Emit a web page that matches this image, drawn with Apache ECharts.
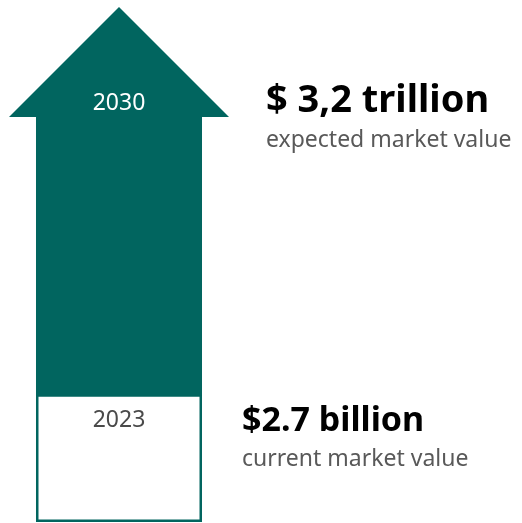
<!DOCTYPE html>
<html>
<head>
<meta charset="utf-8">
<script src="https://cdn.jsdelivr.net/npm/echarts@6/dist/echarts.min.js"></script>
<style>
html,body{margin:0;padding:0;background:#fff;}
#chart{width:522px;height:523px;}
</style>
</head>
<body>
<div id="chart"></div>
<script>
// Data
const years = ['2023', '2030'];
const marketValueBillion = [2.7, 3200];
const valueLabels = ['$2.7 billion', '$ 3,2 trillion'];
const valueCaptions = ['current market value', 'expected market value'];

const TEAL = '#01655f';
const FONT = 'Noto Sans';

const chart = echarts.init(document.getElementById('chart'), null, {renderer: 'canvas'});

const seriesData = years.map((y, i) => [0, i === 0 ? 0.27 : marketValueBillion[i - 1], marketValueBillion[i], i]);

function renderItem(params, api) {
  const i = api.value(3);
  const from = api.coord([0, api.value(1)]);
  const to = api.coord([0, api.value(2)]);
  const band = api.size([1, 0])[0];
  const cx = from[0];
  const shaftHalf = band * 0.3773;
  const headHalf = band / 2;
  const x0 = cx - shaftHalf, x1 = cx + shaftHalf;
  const yTop = to[1], yBot = from[1];
  const children = [];
  if (i === 0) {
    children.push({
      type: 'rect',
      shape: {x: x0 + 1.25, y: yTop, width: x1 - x0 - 2.5, height: yBot - yTop - 1.25},
      style: {fill: '#fff', stroke: TEAL, lineWidth: 2.5}
    });
    children.push({
      type: 'text',
      style: {text: years[i], x: cx, y: yTop + 25, align: 'center', verticalAlign: 'middle',
        fill: '#4a4a4a', font: '23px "' + FONT + '"'}
    });
    children.push({
      type: 'text',
      style: {text: valueLabels[i], x: x1 + 40, y: yTop + 26, align: 'left', verticalAlign: 'middle',
        fill: '#000', font: 'bold 34px "' + FONT + '"'}
    });
    children.push({
      type: 'text',
      style: {text: valueCaptions[i], x: x1 + 40, y: yTop + 64, align: 'left', verticalAlign: 'middle',
        fill: '#595959', font: '23px "' + FONT + '"'}
    });
  } else {
    const headBase = yTop + 110;
    children.push({
      type: 'polygon',
      shape: {points: [
        [cx, yTop], [cx + headHalf, headBase], [x1, headBase], [x1, yBot],
        [x0, yBot], [x0, headBase], [cx - headHalf, headBase]
      ]},
      style: {fill: TEAL}
    });
    children.push({
      type: 'text',
      style: {text: years[i], x: cx, y: yTop + 96, align: 'center', verticalAlign: 'middle',
        fill: '#fff', font: '23px "' + FONT + '"'}
    });
    children.push({
      type: 'text',
      style: {text: valueLabels[i], x: cx + headHalf + 37, y: yTop + 94, align: 'left', verticalAlign: 'middle',
        fill: '#000', font: 'bold 38px "' + FONT + '"'}
    });
    children.push({
      type: 'text',
      style: {text: valueCaptions[i], x: cx + headHalf + 37, y: yTop + 133, align: 'left', verticalAlign: 'middle',
        fill: '#595959', font: '23px "' + FONT + '"'}
    });
  }
  return {type: 'group', children: children};
}

chart.setOption({
  animation: false,
  backgroundColor: '#fff',
  grid: {left: 9, width: 220, top: 7, bottom: 1},
  xAxis: {type: 'category', data: ['market'], show: false, boundaryGap: true},
  yAxis: {type: 'log', logBase: 10, min: 0.27, max: 3200, show: false},
  series: [{
    type: 'custom',
    clip: false,
    renderItem: renderItem,
    encode: {x: 0, y: [1, 2]},
    data: seriesData
  }]
});
</script>
</body>
</html>
